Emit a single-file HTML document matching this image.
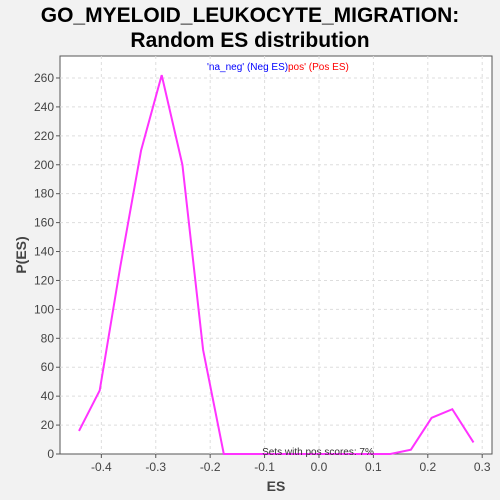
<!DOCTYPE html>
<html><head><meta charset="utf-8"><style>
body{margin:0;background:#f2f2f2;font-family:"Liberation Sans",sans-serif;}
svg{display:block}
</style></head><body>
<svg id="chart" width="500" height="500">
<text x="250" y="22" text-anchor="middle" font-size="21" font-weight="bold" fill="#000">GO_MYELOID_LEUKOCYTE_MIGRATION:</text>
<text x="250" y="47" text-anchor="middle" font-size="21" font-weight="bold" fill="#000">Random ES distribution</text>
<rect x="60" y="56" width="432" height="398" fill="#fff" stroke="#555"/>
<g id="grid"></g><g id="axes"></g><g id="series"></g>
<text x="207" y="70" font-size="10" fill="#0000ff">'na_neg' (Neg ES)</text>
<text x="288" y="70" font-size="10" fill="#ff0000">pos' (Pos ES)</text>
<text x="318" y="455" text-anchor="middle" font-size="10" fill="#333">Sets with pos scores: 7%</text>
<text x="276" y="491" text-anchor="middle" font-size="14" font-weight="bold" fill="#444">ES</text>
<text transform="translate(26,255) rotate(-90)" text-anchor="middle" font-size="14" font-weight="bold" fill="#444">P(ES)</text>
</svg>
<script>
const esValues=[-0.441,-0.403,-0.365,-0.327,-0.289,-0.251,-0.213,-0.175,-0.137,-0.099,-0.061,-0.023,0.015,0.053,0.092,0.131,0.169,0.207,0.245,0.284];
const pValues=[16,44,130,210,262,200,72,0,0,0,0,0,0,0,0,0,3,25,31,8];
const xTicks=[-0.4,-0.3,-0.2,-0.1,0.0,0.1,0.2,0.3];
const xTickLabels=["-0.4","-0.3","-0.2","-0.1","0.0","0.1","0.2","0.3"];
const yTicks=[0,20,40,60,80,100,120,140,160,180,200,220,240,260];
const NS="http://www.w3.org/2000/svg";
const L=60,R=492,T=56,B=454,xmin=-0.476,xmax=0.318,ymin=0,ymax=275.2;
function sx(v){return L+(v-xmin)/(xmax-xmin)*(R-L);}
function sy(v){return B-(v-ymin)/(ymax-ymin)*(B-T);}
function mk(tag,attrs,parent){const e=document.createElementNS(NS,tag);for(const k in attrs)e.setAttribute(k,attrs[k]);parent.appendChild(e);return e;}
const grid=document.getElementById('grid'),axes=document.getElementById('axes'),series=document.getElementById('series');
xTicks.forEach((t,i)=>{const x=sx(t);
 const g=mk('line',{x1:x,x2:x,y1:T,y2:B,stroke:'#ddd','stroke-dasharray':'3,3'},grid);
 
 
 mk('line',{x1:x,x2:x,y1:B,y2:B+4,stroke:'#555'},axes);
 const tx=mk('text',{x:x,y:B+17,'text-anchor':'middle','font-size':'12',fill:'#444'},axes);
 tx.textContent=xTickLabels[i];
 
 
});
yTicks.forEach(t=>{const y=sy(t);
 if(t>0){
 const g=mk('line',{x1:L,x2:R,y1:y,y2:y,stroke:'#ddd','stroke-dasharray':'3,3'},grid);
 
 
 }
 mk('line',{x1:L-4,x2:L,y1:y,y2:y,stroke:'#555'},axes);
 const tx=mk('text',{x:L-6,y:y+4,'text-anchor':'end','font-size':'12',fill:'#444'},axes);
 tx.textContent=String(t);
 
 
});
const pts=esValues.map((v,i)=>sx(v).toFixed(1)+','+sy(pValues[i]).toFixed(1)).join(' ');
const line=mk('polyline',{points:pts,fill:'none',stroke:'#ff33ff','stroke-width':'2'},series);


</script>
</body></html>
